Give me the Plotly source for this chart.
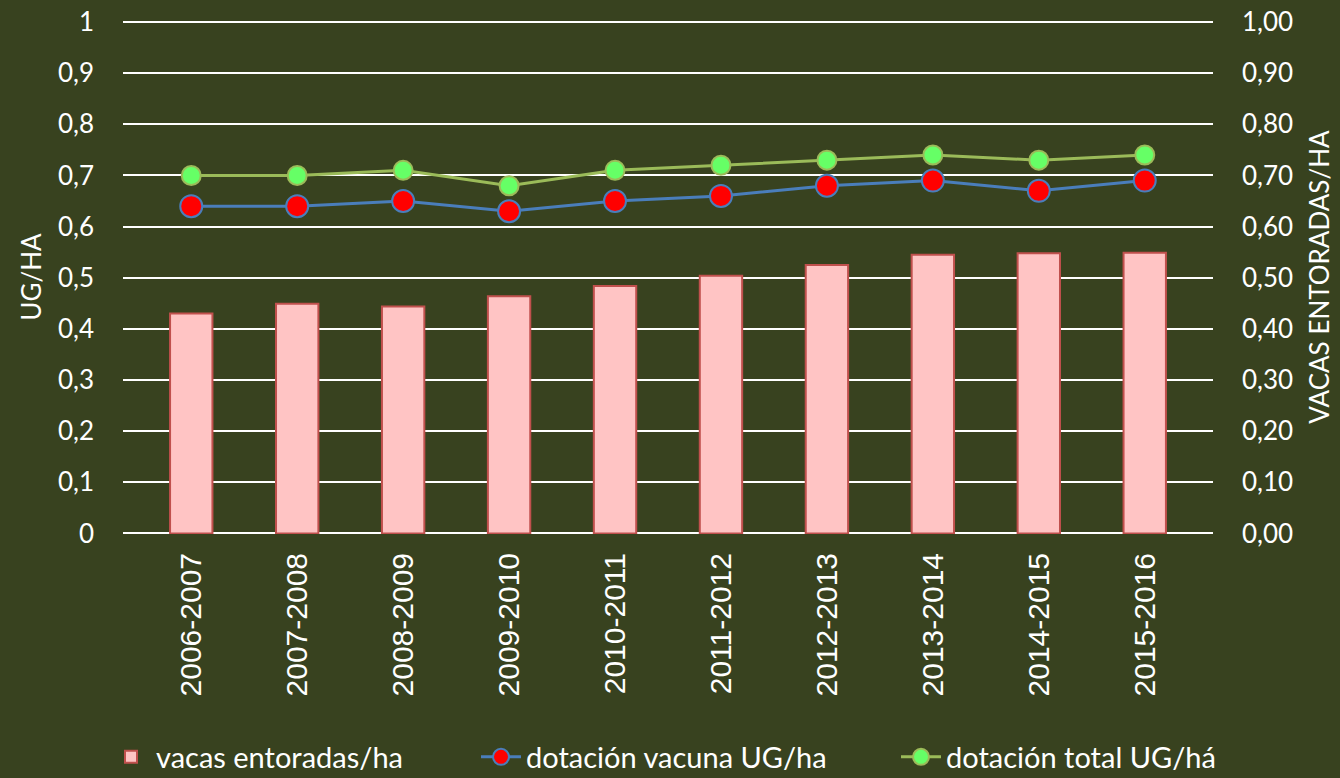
import plotly.graph_objects as go

categories = ["2006-2007", "2007-2008", "2008-2009", "2009-2010", "2010-2011",
              "2011-2012", "2012-2013", "2013-2014", "2014-2015", "2015-2016"]
vacas_entoradas = [0.430, 0.449, 0.444, 0.464, 0.484, 0.504, 0.525, 0.545, 0.548, 0.549]
dotacion_vacuna = [0.64, 0.64, 0.65, 0.63, 0.65, 0.66, 0.68, 0.69, 0.67, 0.69]
dotacion_total = [0.70, 0.70, 0.71, 0.68, 0.71, 0.72, 0.73, 0.74, 0.73, 0.74]

left_ticks = [0, 0.1, 0.2, 0.3, 0.4, 0.5, 0.6, 0.7, 0.8, 0.9, 1]

BG = "#38421F"
TXT = "#FFFFFF"
FONT = "Lato, 'Open Sans', sans-serif"
W, H = 1340, 778

fig = go.Figure()

fig.add_trace(go.Bar(
    x=categories, y=vacas_entoradas, name="vacas entoradas/ha",
    yaxis="y2", width=0.4, legend="legend",
    marker=dict(color="#FFC4C4", line=dict(color="#C0504D", width=2)),
))
fig.add_trace(go.Scatter(
    x=categories, y=dotacion_vacuna, name="dotación vacuna UG/ha",
    mode="lines+markers", legend="legend2",
    line=dict(color="#4A7EBB", width=3),
    marker=dict(size=22, color="#FF0000", line=dict(color="#4A7EBB", width=2)),
))
fig.add_trace(go.Scatter(
    x=categories, y=dotacion_total, name="dotación total UG/há",
    mode="lines+markers", legend="legend3",
    line=dict(color="#9BBB59", width=3),
    marker=dict(size=19, color="#66FF66", line=dict(color="#9BBB59", width=2)),
))

leg_common = dict(orientation="h", xref="container", yref="container",
                  y=1 - 757 / H, yanchor="middle", xanchor="left",
                  font=dict(size=29, color=TXT, family=FONT), bgcolor="rgba(0,0,0,0)",
                  itemwidth=40, borderwidth=0)

fig.update_layout(
    width=W, height=H,
    paper_bgcolor=BG, plot_bgcolor=BG,
    separators=", ",
    margin=dict(l=123, r=127, t=20, b=244, autoexpand=False),
    font=dict(family=FONT, color=TXT, size=26),
    showlegend=True,
    legend=dict(x=106 / W, **leg_common),
    legend2=dict(x=476 / W, **leg_common),
    legend3=dict(x=896 / W, **leg_common),
    xaxis=dict(
        type="category", tickangle=-90, showgrid=False, showline=False, zeroline=False,
        tickfont=dict(family="'Liberation Sans', Arial, sans-serif", size=30, color=TXT),
        ticks="", ticklabelstandoff=12, automargin=False,
    ),
    yaxis=dict(
        range=[-0.001, 1.004], tickvals=left_ticks, showgrid=True, gridcolor="#FFFFFF", gridwidth=2,
        zeroline=True, zerolinecolor="#FFFFFF", zerolinewidth=2, showline=False, ticks="",
        tickfont=dict(size=26, color=TXT, family=FONT), ticklabelstandoff=28, automargin=False,
        title=dict(text="UG/HA", font=dict(size=26, color=TXT, family=FONT), standoff=8),
    ),
    yaxis2=dict(
        range=[-0.001, 1.004], tickvals=left_ticks, tickformat=".2f", overlaying="y", side="right",
        showgrid=False, zeroline=False, showline=False, ticks="", automargin=False,
        tickfont=dict(size=26, color=TXT, family=FONT), ticklabelstandoff=28,
        title=dict(text="VACAS ENTORADAS/HA", font=dict(size=26, color=TXT, family=FONT), standoff=18),
    ),
)

fig.write_html("out.html", config={"displayModeBar": False},
               post_script="document.body.style.margin='0px';document.body.style.background='%s';" % BG)
